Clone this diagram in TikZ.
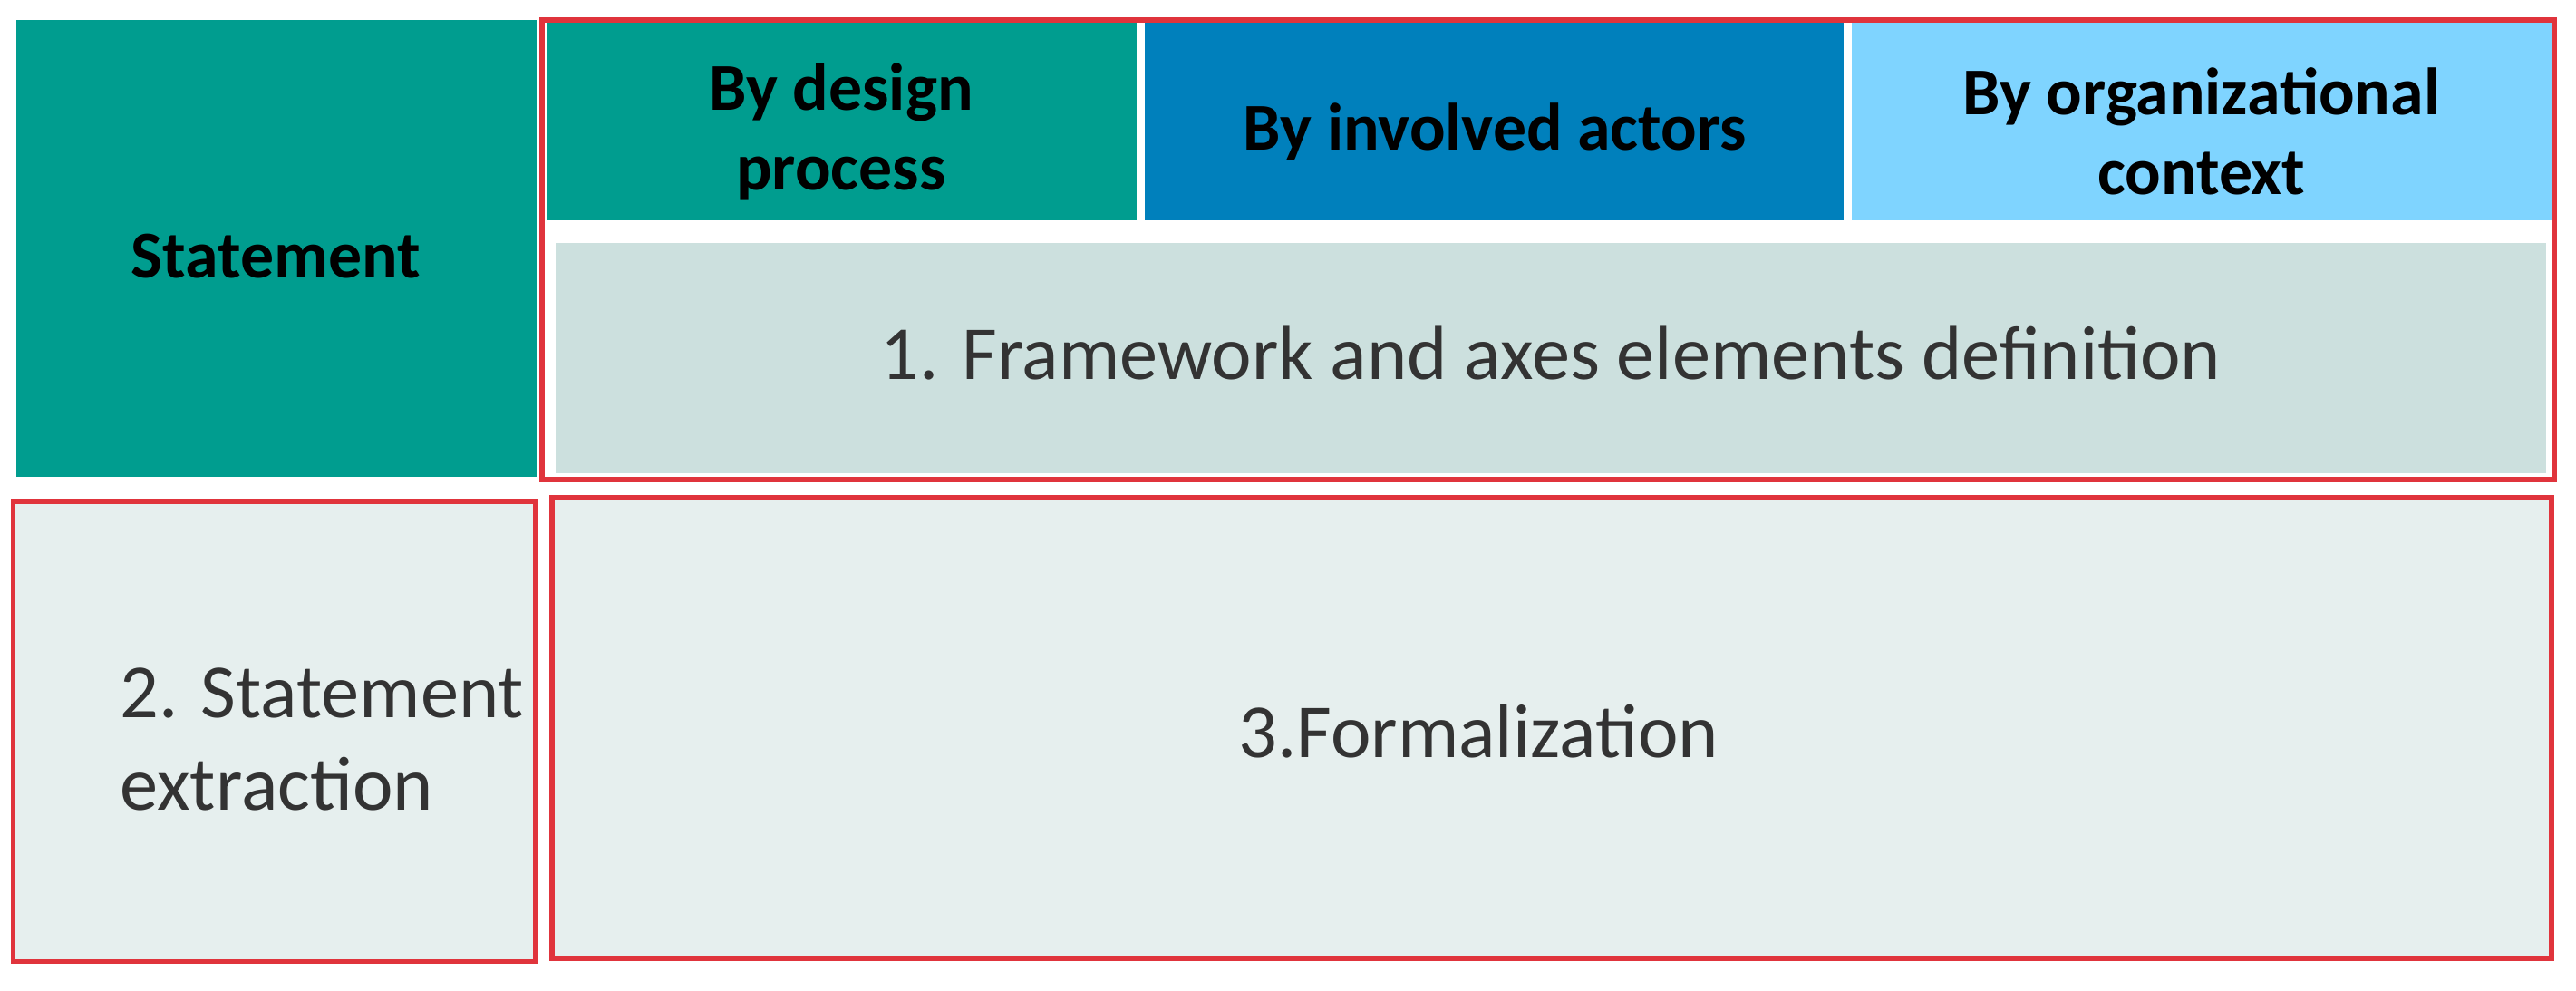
\documentclass[tikz,border=0pt]{standalone}
\usepackage{fontspec}
\setmainfont{Carlito}
\definecolor{teal1}{HTML}{009D8F}
\definecolor{blue1}{HTML}{0080BC}
\definecolor{lblue}{HTML}{7FD4FF}
\definecolor{fw}{HTML}{CCE0DE}
\definecolor{pale}{HTML}{E6EFEE}
\definecolor{redb}{HTML}{E0343C}
\definecolor{txt}{HTML}{333333}
\begin{document}
\begin{tikzpicture}[x=0.018125cm,y=-0.018125cm,
  hdr/.style={font=\fontsize{21}{25}\selectfont\bfseries,align=center,text=black},
  reg/.style={font=\fontsize{24}{29}\selectfont,align=left,text=txt},
  redbox/.style={draw=redb,line width=1.6pt}]
\useasboundingbox (0,0) rectangle (1568,602.5);
\fill[teal1] (10,12) rectangle (327,290);
\fill[teal1] (333,14) rectangle (692,134);
\fill[blue1] (697,14) rectangle (1122,134);
\fill[lblue] (1127,14) rectangle (1553,134);
\fill[fw] (338,148) rectangle (1550,288);
\draw[redbox] (330,12) rectangle (1555,292);
\draw[redbox,fill=pale] (8,305) rectangle (326,585);
\draw[redbox,fill=pale] (336,303) rectangle (1553,583);
\node[hdr] (st) at (168,156) {Statement};
\node[hdr] (dp) at (512,80) {By design\\process};
\node[hdr] (ia) at (910,80) {By involved actors};
\node[hdr] (oc) at (1340,80) {By organizational\\context};
\node[reg] (fd) at (944,215) {1. Framework and axes elements definition};
\node[reg] (se) at (196,450) {2. Statement\\extraction};
\node[reg] (fo) at (900,445) {3.Formalization};
\end{tikzpicture}
\end{document}
